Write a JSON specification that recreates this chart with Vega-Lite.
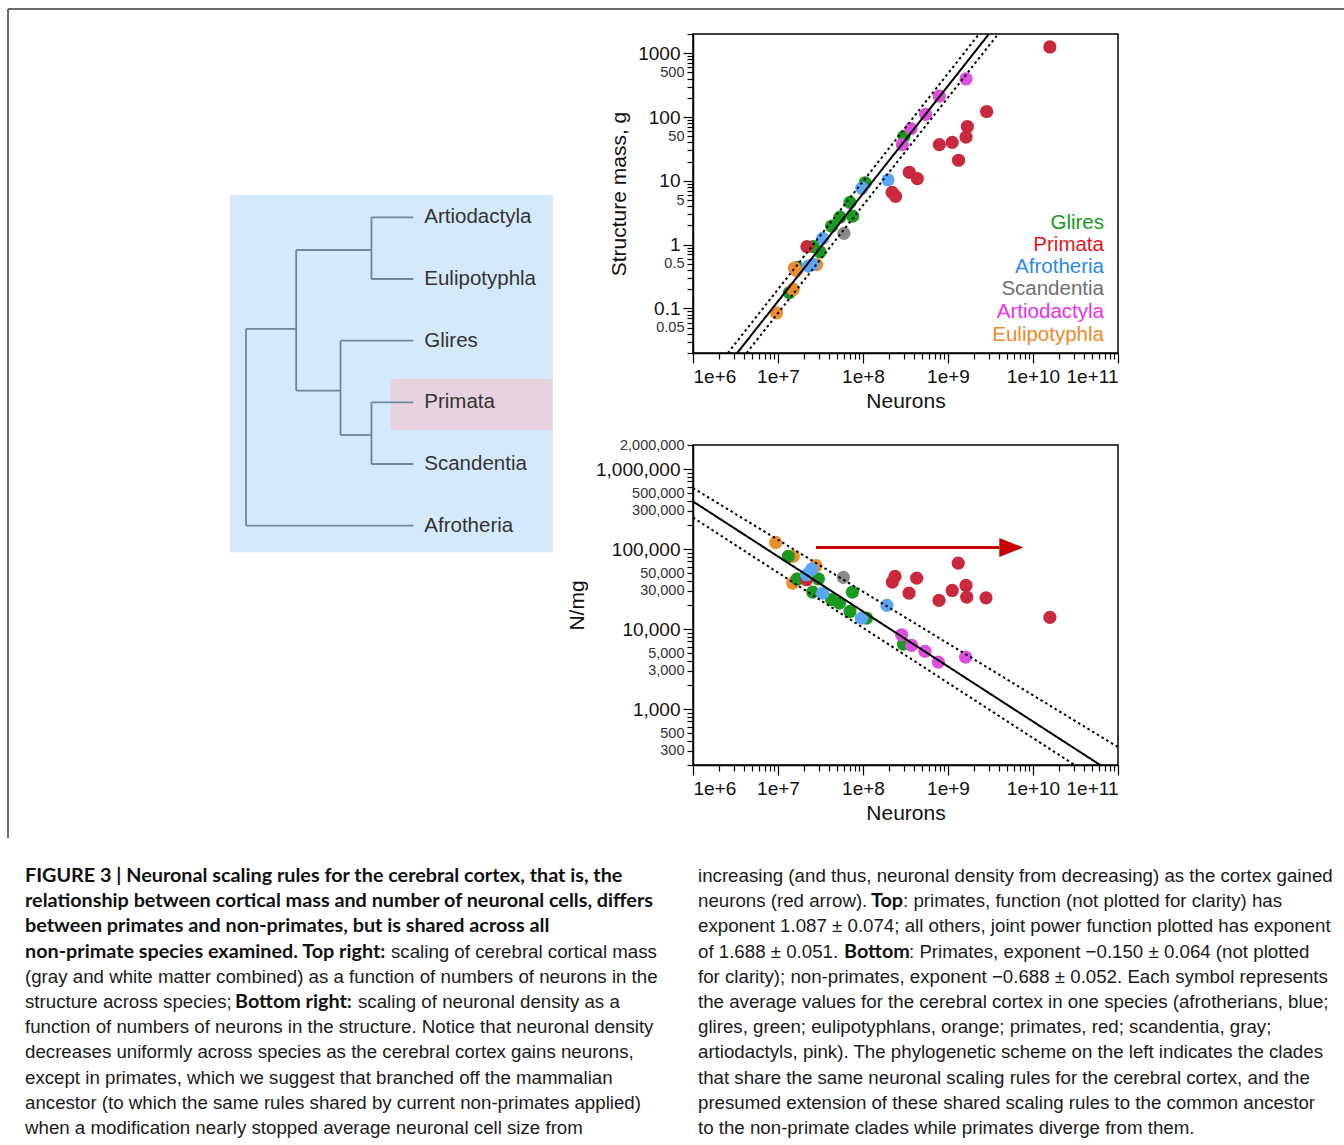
{
  "$schema": "https://vega.github.io/schema/vega-lite/v6.json",
  "width": 1344,
  "height": 1145,
  "autosize": {"type": "none"},
  "padding": 0,
  "background": "white",
  "config": {"view": {"stroke": null}, "font": "Liberation Sans", "axis": {"grid": false}},
  "datasets": {
    "frame": [
      {"x": 8, "x2": 1344, "y": 9, "y2": 9},
      {"x": 8, "x2": 8, "y": 9, "y2": 838}
    ],
    "treeBoxes": [
      {"kind": "background", "x": -0.38, "x2": 7.34, "y": -0.36, "y2": 5.43},
      {"kind": "highlight", "x": 3.46, "x2": 7.33, "y": 2.62, "y2": 3.45}
    ],
    "branches": [
      {"x": 0, "x2": 0, "y": 1.81, "y2": 5},
      {"x": 0, "x2": 1.2, "y": 1.81, "y2": 1.81},
      {"x": 0, "x2": 4, "y": 5, "y2": 5},
      {"x": 1.2, "x2": 1.2, "y": 0.53, "y2": 2.81},
      {"x": 1.2, "x2": 3.0, "y": 0.53, "y2": 0.53},
      {"x": 1.2, "x2": 2.26, "y": 2.81, "y2": 2.81},
      {"x": 3.0, "x2": 3.0, "y": 0, "y2": 1},
      {"x": 3.0, "x2": 4, "y": 0, "y2": 0},
      {"x": 3.0, "x2": 4, "y": 1, "y2": 1},
      {"x": 2.26, "x2": 2.26, "y": 2, "y2": 3.53},
      {"x": 2.26, "x2": 4, "y": 2, "y2": 2},
      {"x": 2.26, "x2": 3.0, "y": 3.53, "y2": 3.53},
      {"x": 3.0, "x2": 3.0, "y": 3, "y2": 4},
      {"x": 3.0, "x2": 4, "y": 3, "y2": 3},
      {"x": 3.0, "x2": 4, "y": 4, "y2": 4}
    ],
    "leaves": [
      {"clade": "Artiodactyla", "depth": 4, "order": 0},
      {"clade": "Eulipotyphla", "depth": 4, "order": 1},
      {"clade": "Glires", "depth": 4, "order": 2},
      {"clade": "Primata", "depth": 4, "order": 3},
      {"clade": "Scandentia", "depth": 4, "order": 4},
      {"clade": "Afrotheria", "depth": 4, "order": 5}
    ],
    "topPoints": [
      {"clade": "Glires", "neurons": 3.03e8, "mass": 49.8},
      {"clade": "Glires", "neurons": 1.06e8, "mass": 9.3},
      {"clade": "Glires", "neurons": 7.03e7, "mass": 4.6},
      {"clade": "Glires", "neurons": 7.55e7, "mass": 2.8},
      {"clade": "Glires", "neurons": 5.36e7, "mass": 2.7},
      {"clade": "Glires", "neurons": 4.27e7, "mass": 1.95},
      {"clade": "Glires", "neurons": 2.6e7, "mass": 0.93},
      {"clade": "Glires", "neurons": 3.12e7, "mass": 0.77},
      {"clade": "Glires", "neurons": 1.69e7, "mass": 0.44},
      {"clade": "Glires", "neurons": 1.36e7, "mass": 0.177},
      {"clade": "Eulipotyphla", "neurons": 9.6e6, "mass": 0.085},
      {"clade": "Eulipotyphla", "neurons": 1.51e7, "mass": 0.2},
      {"clade": "Eulipotyphla", "neurons": 1.66e7, "mass": 0.39},
      {"clade": "Eulipotyphla", "neurons": 1.56e7, "mass": 0.43},
      {"clade": "Eulipotyphla", "neurons": 2.85e7, "mass": 0.485},
      {"clade": "Afrotheria", "neurons": 1.97e8, "mass": 10.35},
      {"clade": "Afrotheria", "neurons": 9.7e7, "mass": 7.65},
      {"clade": "Afrotheria", "neurons": 3.35e7, "mass": 1.25},
      {"clade": "Afrotheria", "neurons": 2.27e7, "mass": 0.46},
      {"clade": "Afrotheria", "neurons": 2.56e7, "mass": 0.49},
      {"clade": "Scandentia", "neurons": 5.97e7, "mass": 1.5},
      {"clade": "Primata", "neurons": 1.58e10, "mass": 1253},
      {"clade": "Primata", "neurons": 2.85e9, "mass": 122},
      {"clade": "Primata", "neurons": 1.69e9, "mass": 71},
      {"clade": "Primata", "neurons": 1.63e9, "mass": 48.5},
      {"clade": "Primata", "neurons": 1.12e9, "mass": 40},
      {"clade": "Primata", "neurons": 7.9e8, "mass": 36.9},
      {"clade": "Primata", "neurons": 1.33e9, "mass": 21},
      {"clade": "Primata", "neurons": 3.5e8, "mass": 13.6},
      {"clade": "Primata", "neurons": 4.36e8, "mass": 10.8},
      {"clade": "Primata", "neurons": 2.2e8, "mass": 6.6},
      {"clade": "Primata", "neurons": 2.42e8, "mass": 5.7},
      {"clade": "Primata", "neurons": 2.19e7, "mass": 0.93},
      {"clade": "Artiodactyla", "neurons": 1.63e9, "mass": 396},
      {"clade": "Artiodactyla", "neurons": 7.9e8, "mass": 212},
      {"clade": "Artiodactyla", "neurons": 5.46e8, "mass": 110},
      {"clade": "Artiodactyla", "neurons": 3.67e8, "mass": 65.6},
      {"clade": "Artiodactyla", "neurons": 2.9e8, "mass": 36.9}
    ],
    "topFit": [
      {"line": "fit", "neurons": 3.31e6, "mass": 0.02},
      {"line": "fit", "neurons": 3.03e9, "mass": 2000},
      {"line": "upper", "neurons": 2.57e6, "mass": 0.02},
      {"line": "upper", "neurons": 2.32e9, "mass": 2000},
      {"line": "lower", "neurons": 4.27e6, "mass": 0.02},
      {"line": "lower", "neurons": 3.89e9, "mass": 2000}
    ],
    "topBox": [{"neurons": 1e6, "neurons2": 1e11, "mass": 0.02, "mass2": 2000}],
    "topLegend": [
      {"clade": "Glires", "neurons": 6.84e10, "mass": 2.2},
      {"clade": "Primata", "neurons": 6.84e10, "mass": 0.97},
      {"clade": "Afrotheria", "neurons": 6.84e10, "mass": 0.44},
      {"clade": "Scandentia", "neurons": 6.84e10, "mass": 0.2},
      {"clade": "Artiodactyla", "neurons": 6.84e10, "mass": 0.088},
      {"clade": "Eulipotyphla", "neurons": 6.84e10, "mass": 0.0385}
    ],
    "bottomPoints": [
      {"clade": "Eulipotyphla", "neurons": 9.4e6, "density": 121000},
      {"clade": "Eulipotyphla", "neurons": 1.51e7, "density": 81000},
      {"clade": "Eulipotyphla", "neurons": 2.8e7, "density": 62000},
      {"clade": "Eulipotyphla", "neurons": 1.66e7, "density": 42200},
      {"clade": "Eulipotyphla", "neurons": 1.49e7, "density": 37600},
      {"clade": "Glires", "neurons": 1.32e7, "density": 81000},
      {"clade": "Glires", "neurons": 2.99e7, "density": 42500},
      {"clade": "Glires", "neurons": 2.56e7, "density": 29000},
      {"clade": "Glires", "neurons": 4.28e7, "density": 23300},
      {"clade": "Glires", "neurons": 5.27e7, "density": 21100},
      {"clade": "Glires", "neurons": 7.03e7, "density": 16600},
      {"clade": "Glires", "neurons": 7.5e7, "density": 29000},
      {"clade": "Glires", "neurons": 1.1e8, "density": 13700},
      {"clade": "Glires", "neurons": 2.99e8, "density": 6500},
      {"clade": "Glires", "neurons": 1.69e7, "density": 42200},
      {"clade": "Primata", "neurons": 2.17e7, "density": 41400},
      {"clade": "Afrotheria", "neurons": 2.49e7, "density": 56000},
      {"clade": "Afrotheria", "neurons": 2.17e7, "density": 47800},
      {"clade": "Afrotheria", "neurons": 3.35e7, "density": 28200},
      {"clade": "Afrotheria", "neurons": 9.6e7, "density": 13700},
      {"clade": "Afrotheria", "neurons": 1.91e8, "density": 19800},
      {"clade": "Scandentia", "neurons": 5.87e7, "density": 44300},
      {"clade": "Primata", "neurons": 2.38e8, "density": 45500},
      {"clade": "Primata", "neurons": 2.21e8, "density": 38700},
      {"clade": "Primata", "neurons": 4.28e8, "density": 43400},
      {"clade": "Primata", "neurons": 3.48e8, "density": 28200},
      {"clade": "Primata", "neurons": 1.32e9, "density": 66800},
      {"clade": "Primata", "neurons": 1.63e9, "density": 35100},
      {"clade": "Primata", "neurons": 1.12e9, "density": 30400},
      {"clade": "Primata", "neurons": 7.84e8, "density": 22800},
      {"clade": "Primata", "neurons": 1.66e9, "density": 25100},
      {"clade": "Primata", "neurons": 2.8e9, "density": 24600},
      {"clade": "Primata", "neurons": 1.58e10, "density": 14000},
      {"clade": "Artiodactyla", "neurons": 2.85e8, "density": 8490},
      {"clade": "Artiodactyla", "neurons": 3.74e8, "density": 6250},
      {"clade": "Artiodactyla", "neurons": 5.36e8, "density": 5260},
      {"clade": "Artiodactyla", "neurons": 7.7e8, "density": 3870},
      {"clade": "Artiodactyla", "neurons": 1.61e9, "density": 4470}
    ],
    "bottomFit": [
      {"line": "fit", "neurons": 1e6, "density": 394000},
      {"line": "fit", "neurons": 6.17e10, "density": 200},
      {"line": "upper", "neurons": 1e6, "density": 580000},
      {"line": "upper", "neurons": 1e11, "density": 335},
      {"line": "lower", "neurons": 1e6, "density": 248000},
      {"line": "lower", "neurons": 3.09e10, "density": 200}
    ],
    "bottomBox": [{"neurons": 1e6, "neurons2": 1e11, "density": 200, "density2": 2000000}],
    "arrow": [{"from": 2.8e7, "to": 4.02e9, "head": 5.56e9, "density": 104700}],
    "caption": [
      {"col": 0, "line": 1, "part": "head", "text": "FIGURE 3 | Neuronal scaling rules for the cerebral cortex, that is, the"},
      {"col": 0, "line": 2, "part": "head", "text": "relationship between cortical mass and number of neuronal cells, differs"},
      {"col": 0, "line": 3, "part": "head", "text": "between primates and non-primates, but is shared across all"},
      {"col": 0, "line": 4, "part": "head", "text": "non-primate species examined. Top right:"},
      {"col": 0, "line": 4, "part": "i1", "text": "scaling of cerebral cortical mass"},
      {"col": 0, "line": 5, "part": "body", "text": "(gray and white matter combined) as a function of numbers of neurons in the"},
      {"col": 0, "line": 6, "part": "body", "text": "structure across species;"},
      {"col": 0, "line": 6, "part": "i2", "text": "Bottom right:"},
      {"col": 0, "line": 6, "part": "i3", "text": "scaling of neuronal density as a"},
      {"col": 0, "line": 7, "part": "body", "text": "function of numbers of neurons in the structure. Notice that neuronal density"},
      {"col": 0, "line": 8, "part": "body", "text": "decreases uniformly across species as the cerebral cortex gains neurons,"},
      {"col": 0, "line": 9, "part": "body", "text": "except in primates, which we suggest that branched off the mammalian"},
      {"col": 0, "line": 10, "part": "body", "text": "ancestor (to which the same rules shared by current non-primates applied)"},
      {"col": 0, "line": 11, "part": "body", "text": "when a modification nearly stopped average neuronal cell size from"},
      {"col": 1, "line": 1, "part": "body", "text": "increasing (and thus, neuronal density from decreasing) as the cortex gained"},
      {"col": 1, "line": 2, "part": "body", "text": "neurons (red arrow)."},
      {"col": 1, "line": 2, "part": "i4", "text": "Top"},
      {"col": 1, "line": 2, "part": "i5", "text": ": primates, function (not plotted for clarity) has"},
      {"col": 1, "line": 3, "part": "body", "text": "exponent 1.087 ± 0.074; all others, joint power function plotted has exponent"},
      {"col": 1, "line": 4, "part": "body", "text": "of 1.688 ± 0.051."},
      {"col": 1, "line": 4, "part": "i6", "text": "Bottom"},
      {"col": 1, "line": 4, "part": "i7", "text": ": Primates, exponent −0.150 ± 0.064 (not plotted"},
      {"col": 1, "line": 5, "part": "body", "text": "for clarity); non-primates, exponent −0.688 ± 0.052. Each symbol represents"},
      {"col": 1, "line": 6, "part": "body", "text": "the average values for the cerebral cortex in one species (afrotherians, blue;"},
      {"col": 1, "line": 7, "part": "body", "text": "glires, green; eulipotyphlans, orange; primates, red; scandentia, gray;"},
      {"col": 1, "line": 8, "part": "body", "text": "artiodactyls, pink). The phylogenetic scheme on the left indicates the clades"},
      {"col": 1, "line": 9, "part": "body", "text": "that share the same neuronal scaling rules for the cerebral cortex, and the"},
      {"col": 1, "line": 10, "part": "body", "text": "presumed extension of these shared scaling rules to the common ancestor"},
      {"col": 1, "line": 11, "part": "body", "text": "to the non-primate clades while primates diverge from them."}
    ]
  },
  "layer": [
    {
      "data": {"name": "frame"},
      "mark": {"type": "rule", "color": "#6b6b6b", "strokeWidth": 2},
      "encoding": {
        "x": {"field": "x", "type": "quantitative", "scale": {"domain": [0, 1344], "range": [0, 1344], "nice": false, "zero": false}, "axis": null},
        "x2": {"field": "x2"},
        "y": {"field": "y", "type": "quantitative", "scale": {"domain": [0, 1145], "range": [0, 1145], "nice": false, "zero": false}, "axis": null},
        "y2": {"field": "y2"}
      }
    },
    {
      "layer": [
        {
          "data": {"name": "treeBoxes"},
          "mark": {"type": "rect"},
          "encoding": {
            "x": {"field": "x", "type": "quantitative", "scale": {"domain": [0, 4], "range": [246, 413.3], "nice": false, "zero": false}, "axis": null},
            "x2": {"field": "x2"},
            "y": {"field": "y", "type": "quantitative", "scale": {"domain": [0, 5], "range": [217.3, 525.7], "nice": false, "zero": false}, "axis": null},
            "y2": {"field": "y2"},
            "color": {"field": "kind", "type": "nominal", "scale": {"domain": ["background", "highlight"], "range": ["#d4eafc", "#e7d3df"]}, "legend": null}
          }
        },
        {
          "data": {"name": "branches"},
          "mark": {"type": "rule", "color": "#6b8799", "strokeWidth": 1.8},
          "encoding": {
            "x": {"field": "x", "type": "quantitative", "axis": null},
            "x2": {"field": "x2"},
            "y": {"field": "y", "type": "quantitative", "axis": null},
            "y2": {"field": "y2"}
          }
        },
        {
          "data": {"name": "leaves"},
          "mark": {"type": "text", "align": "left", "baseline": "middle", "dx": 11, "fontSize": 20.5, "color": "#333333"},
          "encoding": {
            "x": {"field": "depth", "type": "quantitative", "axis": null},
            "y": {"field": "order", "type": "quantitative", "axis": null},
            "text": {"field": "clade"}
          }
        },
        {
          "mark": {"type": "text", "align": "center", "baseline": "middle", "fontSize": 34, "color": "#3a3a3a"},
          "encoding": {
            "x": {"datum": 3.42, "type": "quantitative", "axis": null},
            "y": {"datum": -2.19, "type": "quantitative", "axis": null},
            "text": {"value": "Cerebral cortex"}
          }
        }
      ]
    },
    {
      "resolve": {"scale": {"color": "independent"}},
      "layer": [
        {
          "data": {"name": "topBox"},
          "mark": {"type": "rect", "fillOpacity": 0, "stroke": "#000000", "strokeWidth": 1.5},
          "encoding": {
            "x": {
              "field": "neurons", "type": "quantitative", "title": "Neurons",
              "scale": {"type": "log", "domain": [1e6, 1e11], "range": [693, 1118], "nice": false, "zero": false},
              "axis": {
                "orient": "bottom", "offset": -792,
                "values": [1e6, 2e6, 3e6, 4e6, 5e6, 6e6, 7e6, 8e6, 9e6, 1e7, 2e7, 3e7, 4e7, 5e7, 6e7, 7e7, 8e7, 9e7, 1e8, 2e8, 3e8, 4e8, 5e8, 6e8, 7e8, 8e8, 9e8, 1e9, 2e9, 3e9, 4e9, 5e9, 6e9, 7e9, 8e9, 9e9, 1e10, 2e10, 3e10, 4e10, 5e10, 6e10, 7e10, 8e10, 9e10, 1e11],
                "labelExpr": "indexof([1e6, 1e7, 1e8, 1e9, 1e10, 1e11], datum.value) >= 0 ? '1e+' + round(log(datum.value) / LN10) : ''",
                "tickSize": {"condition": {"test": "indexof([1e6, 1e7, 1e8, 1e9, 1e10, 1e11], datum.value) >= 0", "value": 10}, "value": 6},
                "labelFontSize": 19, "labelColor": "#111111", "labelOverlap": false, "labelPadding": 4,
                "tickColor": "#000000", "tickWidth": 1.2, "domainColor": "#000000", "domainWidth": 1.5,
                "titleFontSize": 21, "titleFontWeight": "normal", "titleColor": "#111111", "titlePadding": 4
              }
            },
            "x2": {"field": "neurons2"},
            "y": {
              "field": "mass", "type": "quantitative", "title": "Structure mass, g",
              "scale": {"type": "log", "domain": [0.02, 2000], "range": [353, 34], "nice": false, "zero": false},
              "axis": {
                "orient": "left", "offset": -693,
                "values": [0.02, 0.03, 0.04, 0.05, 0.06, 0.07, 0.08, 0.09, 0.1, 0.2, 0.3, 0.4, 0.5, 0.6, 0.7, 0.8, 0.9, 1, 2, 3, 4, 5, 6, 7, 8, 9, 10, 20, 30, 40, 50, 60, 70, 80, 90, 100, 200, 300, 400, 500, 600, 700, 800, 900, 1000, 2000],
                "labelExpr": "indexof([0.05, 0.1, 0.5, 1, 5, 10, 50, 100, 500, 1000], datum.value) >= 0 ? format(datum.value, '~g') : ''",
                "labelFontSize": {"condition": {"test": "indexof([0.1, 1, 10, 100, 1000], datum.value) >= 0", "value": 19}, "value": 14.5},
                "labelColor": {"condition": {"test": "indexof([0.1, 1, 10, 100, 1000], datum.value) >= 0", "value": "#111111"}, "value": "#333333"},
                "tickSize": {"condition": {"test": "indexof([0.1, 1, 10, 100, 1000], datum.value) >= 0", "value": 10}, "value": 6},
                "labelOverlap": false, "labelPadding": 3,
                "tickColor": "#000000", "tickWidth": 1.2, "domainColor": "#000000", "domainWidth": 1.5,
                "titleFontSize": 21, "titleFontWeight": "normal", "titleColor": "#111111", "titlePadding": 8
              }
            },
            "y2": {"field": "mass2"}
          }
        },
        {
          "data": {"name": "topPoints"},
          "mark": {"type": "circle", "size": 175, "opacity": 1},
          "encoding": {
            "x": {"field": "neurons", "type": "quantitative", "title": "Neurons"},
            "y": {"field": "mass", "type": "quantitative", "title": "Structure mass, g"},
            "color": {"field": "clade", "type": "nominal", "scale": {"domain": ["Glires", "Primata", "Afrotheria", "Scandentia", "Artiodactyla", "Eulipotyphla"], "range": ["#1a9a1f", "#c9283d", "#5ba6f5", "#8a8a8a", "#de4fdd", "#ee8d2e"]}, "legend": null}
          }
        },
        {
          "data": {"name": "topFit"},
          "mark": {"type": "line", "color": "#000000", "strokeWidth": 2, "clip": true},
          "encoding": {
            "x": {"field": "neurons", "type": "quantitative", "title": "Neurons"},
            "y": {"field": "mass", "type": "quantitative", "title": "Structure mass, g"},
            "detail": {"field": "line", "type": "nominal"},
            "strokeDash": {"field": "line", "type": "nominal", "scale": {"domain": ["fit", "upper", "lower"], "range": [[1, 0], [2.5, 3], [2.5, 3]]}, "legend": null}
          }
        },
        {
          "data": {"name": "topLegend"},
          "mark": {"type": "text", "align": "right", "baseline": "middle", "fontSize": 20.5},
          "encoding": {
            "x": {"field": "neurons", "type": "quantitative", "title": "Neurons"},
            "y": {"field": "mass", "type": "quantitative", "title": "Structure mass, g"},
            "text": {"field": "clade"},
            "color": {"field": "clade", "type": "nominal", "scale": {"domain": ["Glires", "Primata", "Afrotheria", "Scandentia", "Artiodactyla", "Eulipotyphla"], "range": ["#169a1a", "#e5141e", "#2b87f0", "#6f6f6f", "#ec2fec", "#f0892a"]}, "legend": null}
          }
        }
      ]
    },
    {
      "layer": [
        {
          "data": {"name": "bottomBox"},
          "mark": {"type": "rect", "fillOpacity": 0, "stroke": "#000000", "strokeWidth": 1.5},
          "encoding": {
            "x": {
              "field": "neurons", "type": "quantitative", "title": "Neurons",
              "scale": {"type": "log", "domain": [1e6, 1e11], "range": [693, 1118], "nice": false, "zero": false},
              "axis": {
                "orient": "bottom", "offset": -380,
                "values": [1e6, 2e6, 3e6, 4e6, 5e6, 6e6, 7e6, 8e6, 9e6, 1e7, 2e7, 3e7, 4e7, 5e7, 6e7, 7e7, 8e7, 9e7, 1e8, 2e8, 3e8, 4e8, 5e8, 6e8, 7e8, 8e8, 9e8, 1e9, 2e9, 3e9, 4e9, 5e9, 6e9, 7e9, 8e9, 9e9, 1e10, 2e10, 3e10, 4e10, 5e10, 6e10, 7e10, 8e10, 9e10, 1e11],
                "labelExpr": "indexof([1e6, 1e7, 1e8, 1e9, 1e10, 1e11], datum.value) >= 0 ? '1e+' + round(log(datum.value) / LN10) : ''",
                "tickSize": {"condition": {"test": "indexof([1e6, 1e7, 1e8, 1e9, 1e10, 1e11], datum.value) >= 0", "value": 10}, "value": 6},
                "labelFontSize": 19, "labelColor": "#111111", "labelOverlap": false, "labelPadding": 4,
                "tickColor": "#000000", "tickWidth": 1.2, "domainColor": "#000000", "domainWidth": 1.5,
                "titleFontSize": 21, "titleFontWeight": "normal", "titleColor": "#111111", "titlePadding": 4
              }
            },
            "x2": {"field": "neurons2"},
            "y": {
              "field": "density", "type": "quantitative", "title": "N/mg",
              "scale": {"type": "log", "domain": [200, 2000000], "range": [765, 445], "nice": false, "zero": false},
              "axis": {
                "orient": "left", "offset": -693,
                "values": [200, 300, 400, 500, 600, 700, 800, 900, 1000, 2000, 3000, 4000, 5000, 6000, 7000, 8000, 9000, 10000, 20000, 30000, 40000, 50000, 60000, 70000, 80000, 90000, 100000, 200000, 300000, 400000, 500000, 600000, 700000, 800000, 900000, 1000000, 2000000],
                "labelExpr": "indexof([300, 500, 1000, 3000, 5000, 10000, 30000, 50000, 100000, 300000, 500000, 1000000, 2000000], datum.value) >= 0 ? format(datum.value, ',') : ''",
                "labelFontSize": {"condition": {"test": "indexof([1000, 10000, 100000, 1000000], datum.value) >= 0", "value": 19}, "value": 14.5},
                "labelColor": {"condition": {"test": "indexof([1000, 10000, 100000, 1000000], datum.value) >= 0", "value": "#111111"}, "value": "#333333"},
                "tickSize": {"condition": {"test": "indexof([1000, 10000, 100000, 1000000], datum.value) >= 0", "value": 10}, "value": 6},
                "labelOverlap": false, "labelPadding": 3,
                "tickColor": "#000000", "tickWidth": 1.2, "domainColor": "#000000", "domainWidth": 1.5,
                "titleFontSize": 21, "titleFontWeight": "normal", "titleColor": "#111111", "titlePadding": 8
              }
            },
            "y2": {"field": "density2"}
          }
        },
        {
          "data": {"name": "bottomPoints"},
          "mark": {"type": "circle", "size": 175, "opacity": 1},
          "encoding": {
            "x": {"field": "neurons", "type": "quantitative", "title": "Neurons"},
            "y": {"field": "density", "type": "quantitative", "title": "N/mg"},
            "color": {"field": "clade", "type": "nominal", "scale": {"domain": ["Glires", "Primata", "Afrotheria", "Scandentia", "Artiodactyla", "Eulipotyphla"], "range": ["#1a9a1f", "#c9283d", "#5ba6f5", "#8a8a8a", "#de4fdd", "#ee8d2e"]}, "legend": null}
          }
        },
        {
          "data": {"name": "bottomFit"},
          "mark": {"type": "line", "color": "#000000", "strokeWidth": 2, "clip": true},
          "encoding": {
            "x": {"field": "neurons", "type": "quantitative", "title": "Neurons"},
            "y": {"field": "density", "type": "quantitative", "title": "N/mg"},
            "detail": {"field": "line", "type": "nominal"},
            "strokeDash": {"field": "line", "type": "nominal", "scale": {"domain": ["fit", "upper", "lower"], "range": [[1, 0], [2.5, 3], [2.5, 3]]}, "legend": null}
          }
        },
        {
          "data": {"name": "arrow"},
          "mark": {"type": "rule", "color": "#c80000", "strokeWidth": 3},
          "encoding": {
            "x": {"field": "from", "type": "quantitative", "title": "Neurons"},
            "x2": {"field": "to"},
            "y": {"field": "density", "type": "quantitative", "title": "N/mg"}
          }
        },
        {
          "data": {"name": "arrow"},
          "mark": {"type": "point", "shape": "M-1,-0.79L1,0L-1,0.79Z", "size": 576, "filled": true, "color": "#c80000", "opacity": 1},
          "encoding": {
            "x": {"field": "head", "type": "quantitative", "title": "Neurons"},
            "y": {"field": "density", "type": "quantitative", "title": "N/mg"}
          }
        }
      ]
    },
    {
      "data": {"name": "caption"},
      "encoding": {
        "x": {"field": "col", "type": "quantitative", "scale": {"domain": [0, 1], "range": [25, 698], "nice": false, "zero": false}, "axis": null},
        "y": {"field": "line", "type": "quantitative", "scale": {"domain": [1, 11], "range": [876, 1128], "nice": false, "zero": false}, "axis": null},
        "text": {"field": "text"}
      },
      "layer": [
        {"transform": [{"filter": "datum.part === 'head'"}], "mark": {"type": "text", "align": "left", "baseline": "middle", "font": "Lato", "fontWeight": "bold", "fontSize": 19.8, "color": "#111111"}},
        {"transform": [{"filter": "datum.part === 'body'"}], "mark": {"type": "text", "align": "left", "baseline": "middle", "font": "Liberation Sans", "fontSize": 18.7, "color": "#1a1a1a"}},
        {"transform": [{"filter": "datum.part === 'i1'"}], "mark": {"type": "text", "align": "left", "baseline": "middle", "dx": 366, "font": "Liberation Sans", "fontSize": 18.7, "color": "#1a1a1a"}},
        {"transform": [{"filter": "datum.part === 'i2'"}], "mark": {"type": "text", "align": "left", "baseline": "middle", "dx": 210, "font": "Lato", "fontWeight": "bold", "fontSize": 19.8, "color": "#111111"}},
        {"transform": [{"filter": "datum.part === 'i3'"}], "mark": {"type": "text", "align": "left", "baseline": "middle", "dx": 333, "font": "Liberation Sans", "fontSize": 18.7, "color": "#1a1a1a"}},
        {"transform": [{"filter": "datum.part === 'i4'"}], "mark": {"type": "text", "align": "left", "baseline": "middle", "dx": 173, "font": "Lato", "fontWeight": "bold", "fontSize": 19.8, "color": "#111111"}},
        {"transform": [{"filter": "datum.part === 'i5'"}], "mark": {"type": "text", "align": "left", "baseline": "middle", "dx": 205, "font": "Liberation Sans", "fontSize": 18.7, "color": "#1a1a1a"}},
        {"transform": [{"filter": "datum.part === 'i6'"}], "mark": {"type": "text", "align": "left", "baseline": "middle", "dx": 146, "font": "Lato", "fontWeight": "bold", "fontSize": 19.8, "color": "#111111"}},
        {"transform": [{"filter": "datum.part === 'i7'"}], "mark": {"type": "text", "align": "left", "baseline": "middle", "dx": 211, "font": "Liberation Sans", "fontSize": 18.7, "color": "#1a1a1a"}}
      ]
    }
  ],
  "resolve": {"scale": {"x": "independent", "y": "independent", "color": "independent", "strokeDash": "independent"}, "axis": {"x": "independent", "y": "independent"}}
}
